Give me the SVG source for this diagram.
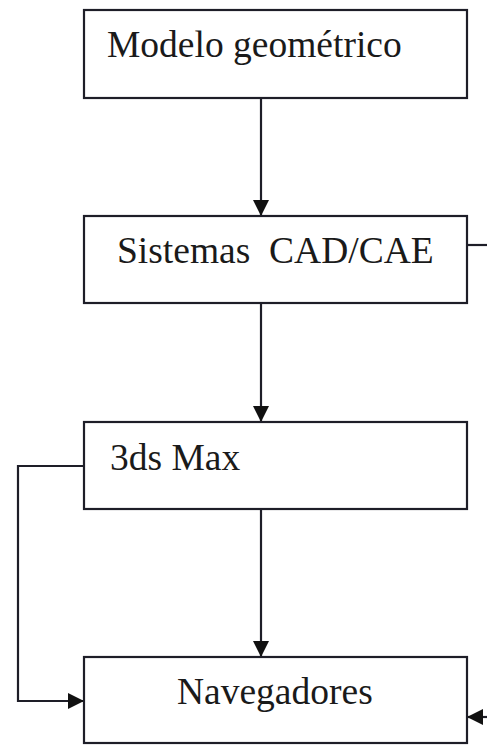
<svg xmlns="http://www.w3.org/2000/svg" width="487" height="745" viewBox="0 0 487 745">
<style>
.box{fill:#fff;stroke:#1e1e28;stroke-width:2.2}
.ln{fill:none;stroke:#1e1e28;stroke-width:2.2}
.t{font-family:"Liberation Serif","Times New Roman",serif;font-size:37.5px;fill:#1a1a1a}
</style>
<defs>
<marker id="ah" markerWidth="16" markerHeight="16" refX="16" refY="8" orient="auto" markerUnits="userSpaceOnUse">
<path d="M0,0 L16,8 L0,16 Z" fill="#111"/>
</marker>
</defs>
<rect width="487" height="745" fill="#fff"/>
<g id="connectors">
<line class="ln" x1="261" y1="98" x2="261" y2="216" marker-end="url(#ah)"/>
<line class="ln" x1="261" y1="303" x2="261" y2="422" marker-end="url(#ah)"/>
<line class="ln" x1="261" y1="509" x2="261" y2="657" marker-end="url(#ah)"/>
<polyline class="ln" points="84,466 18,466 18,701 84,701" marker-end="url(#ah)"/>
<line class="ln" x1="467" y1="245" x2="490" y2="245"/>
<line class="ln" x1="490" y1="717" x2="467" y2="717" marker-end="url(#ah)"/>
</g>
<g id="n1"><rect class="box" x="84" y="10" width="383" height="88"/><text class="t" x="107" y="57">Modelo geométrico</text></g>
<g id="n2"><rect class="box" x="84" y="216" width="383" height="87"/><text class="t" x="117" y="263" xml:space="preserve">Sistemas  CAD/CAE</text></g>
<g id="n3"><rect class="box" x="84" y="422" width="383" height="87"/><text class="t" x="110" y="470">3ds Max</text></g>
<g id="n4"><rect class="box" x="84" y="657" width="383" height="86"/><text class="t" x="177" y="704">Navegadores</text></g>
</svg>
